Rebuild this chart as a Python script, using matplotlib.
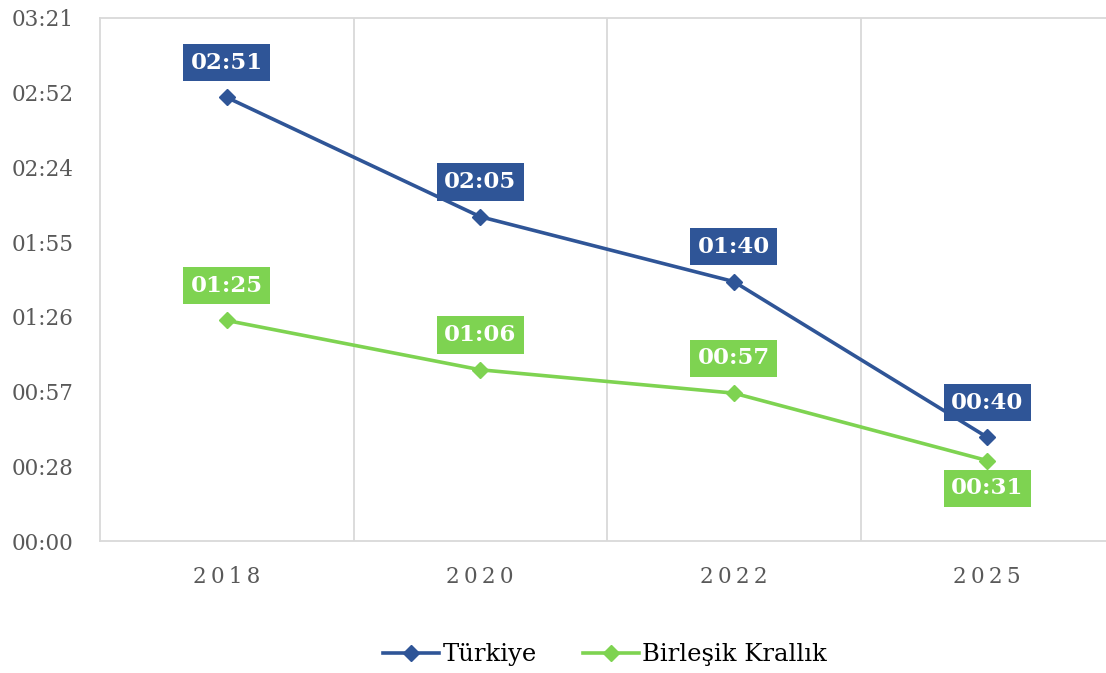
import matplotlib.pyplot as plt
from matplotlib.ticker import FuncFormatter, MultipleLocator

# data (seconds)
years = ["2018", "2020", "2022", "2025"]
turkiye = [171, 125, 100, 40]
uk = [85, 66, 57, 31]
uk_label_below = [False, False, False, True]

blue = "#2F5597"
green = "#7ED351"
grid_col = "#D9D9D9"

plt.rcParams['font.family'] = ['DejaVu Serif']


def mmss(v, pos=None):
    s = int(v + 1e-6)
    return f"{s // 60:02d}:{s % 60:02d}"


fig = plt.figure(figsize=(11.06, 6.73), dpi=100)
ax = fig.add_axes([100 / 1106, 1 - 541 / 673, 1014 / 1106, 523 / 673])

x = list(range(len(years)))
ax.plot(x, turkiye, color=blue, lw=2.6, marker="D", ms=8.5, label="Türkiye")
ax.plot(x, uk, color=green, lw=2.6, marker="D", ms=8.5, label="Birleşik Krallık")

# data labels
for i, v in enumerate(turkiye):
    ax.annotate(mmss(v), (i, v), xytext=(0, 25), textcoords="offset points",
                ha="center", va="center", color="white", fontsize=16.5, fontweight="bold",
                bbox=dict(boxstyle="square,pad=0.33", fc=blue, ec="none"))
for i, v in enumerate(uk):
    dy = -20 if uk_label_below[i] else 25
    ax.annotate(mmss(v), (i, v), xytext=(0, dy), textcoords="offset points",
                ha="center", va="center", color="white", fontsize=16.5, fontweight="bold",
                bbox=dict(boxstyle="square,pad=0.33", fc=green, ec="none"))

ax.set_xlim(-0.5, len(years) - 0.5)
ax.set_ylim(0, 201.6)
ax.yaxis.set_major_locator(MultipleLocator(28.8))
ax.yaxis.set_major_formatter(FuncFormatter(mmss))
ax.set_xticks(x)
ax.set_xticklabels(["\u2009".join(y) for y in years])

# vertical gridlines between categories
for b in [0.5, 1.5, 2.5]:
    ax.axvline(b, color=grid_col, lw=1.3, zorder=0)

for sp in ax.spines.values():
    sp.set_color(grid_col)
    sp.set_linewidth(1.3)

ax.tick_params(axis="both", length=0, colors="#595959", labelsize=15.5)
ax.tick_params(axis="y", pad=19)
ax.tick_params(axis="x", pad=18)

fig.legend(loc="center", bbox_to_anchor=(0.547, 1 - 655 / 673), ncol=2, frameon=False,
           fontsize=17.5, handlelength=2.3, columnspacing=1.9, handletextpad=0.15)

fig.savefig("out.png", dpi=100)
